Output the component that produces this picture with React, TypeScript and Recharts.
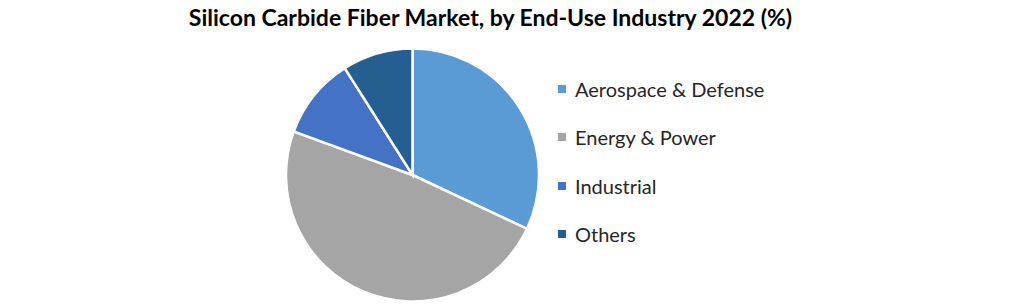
import { PieChart, Pie, Cell } from "recharts";

const industries = ["Aerospace & Defense", "Energy & Power", "Industrial", "Others"];
const shares = [32, 48.6, 10.4, 9];
const COLORS = ["#5B9BD5", "#A5A5A5", "#4472C4", "#255E91"];

const data = industries.map((name, i) => ({ name, value: shares[i] }));

const font = "Lato, 'Open Sans', sans-serif";

function LegendList() {
  return (
    <ul style={{ position: "absolute", left: 558, top: 65, listStyle: "none", margin: 0, padding: 0 }}>
      {data.map((d, i) => (
        <li
          key={d.name}
          style={{
            display: "flex",
            alignItems: "center",
            height: 48.3,
            fontFamily: font,
            fontSize: 20,
            color: "#262626",
          }}
        >
          <span
            style={{
              display: "inline-block",
              width: 8,
              height: 8,
              background: COLORS[i],
              marginRight: 9,
            }}
          />
          {d.name}
        </li>
      ))}
    </ul>
  );
}

export default function App() {
  return (
    <div style={{ position: "absolute", left: 0, top: 0, width: 1021, height: 304, background: "#fff" }}>
      <div
        style={{
          position: "absolute",
          left: 0,
          top: 3,
          width: 981,
          textAlign: "center",
          fontFamily: font,
          fontWeight: 700,
          fontSize: 23,
          color: "#000",
        }}
      >
        Silicon Carbide Fiber Market, by End-Use Industry 2022 (%)
      </div>
      <PieChart width={1021} height={304} margin={{ top: 0, right: 0, bottom: 0, left: 0 }}>
        <Pie
          data={data}
          dataKey="value"
          nameKey="name"
          cx={412.5}
          cy={175}
          outerRadius={126.5}
          startAngle={90}
          endAngle={-270}
          stroke="#fff"
          strokeWidth={2.5}
          isAnimationActive={false}
        >
          {data.map((_, i) => (
            <Cell key={i} fill={COLORS[i]} />
          ))}
        </Pie>
      </PieChart>
      <LegendList />
    </div>
  );
}
